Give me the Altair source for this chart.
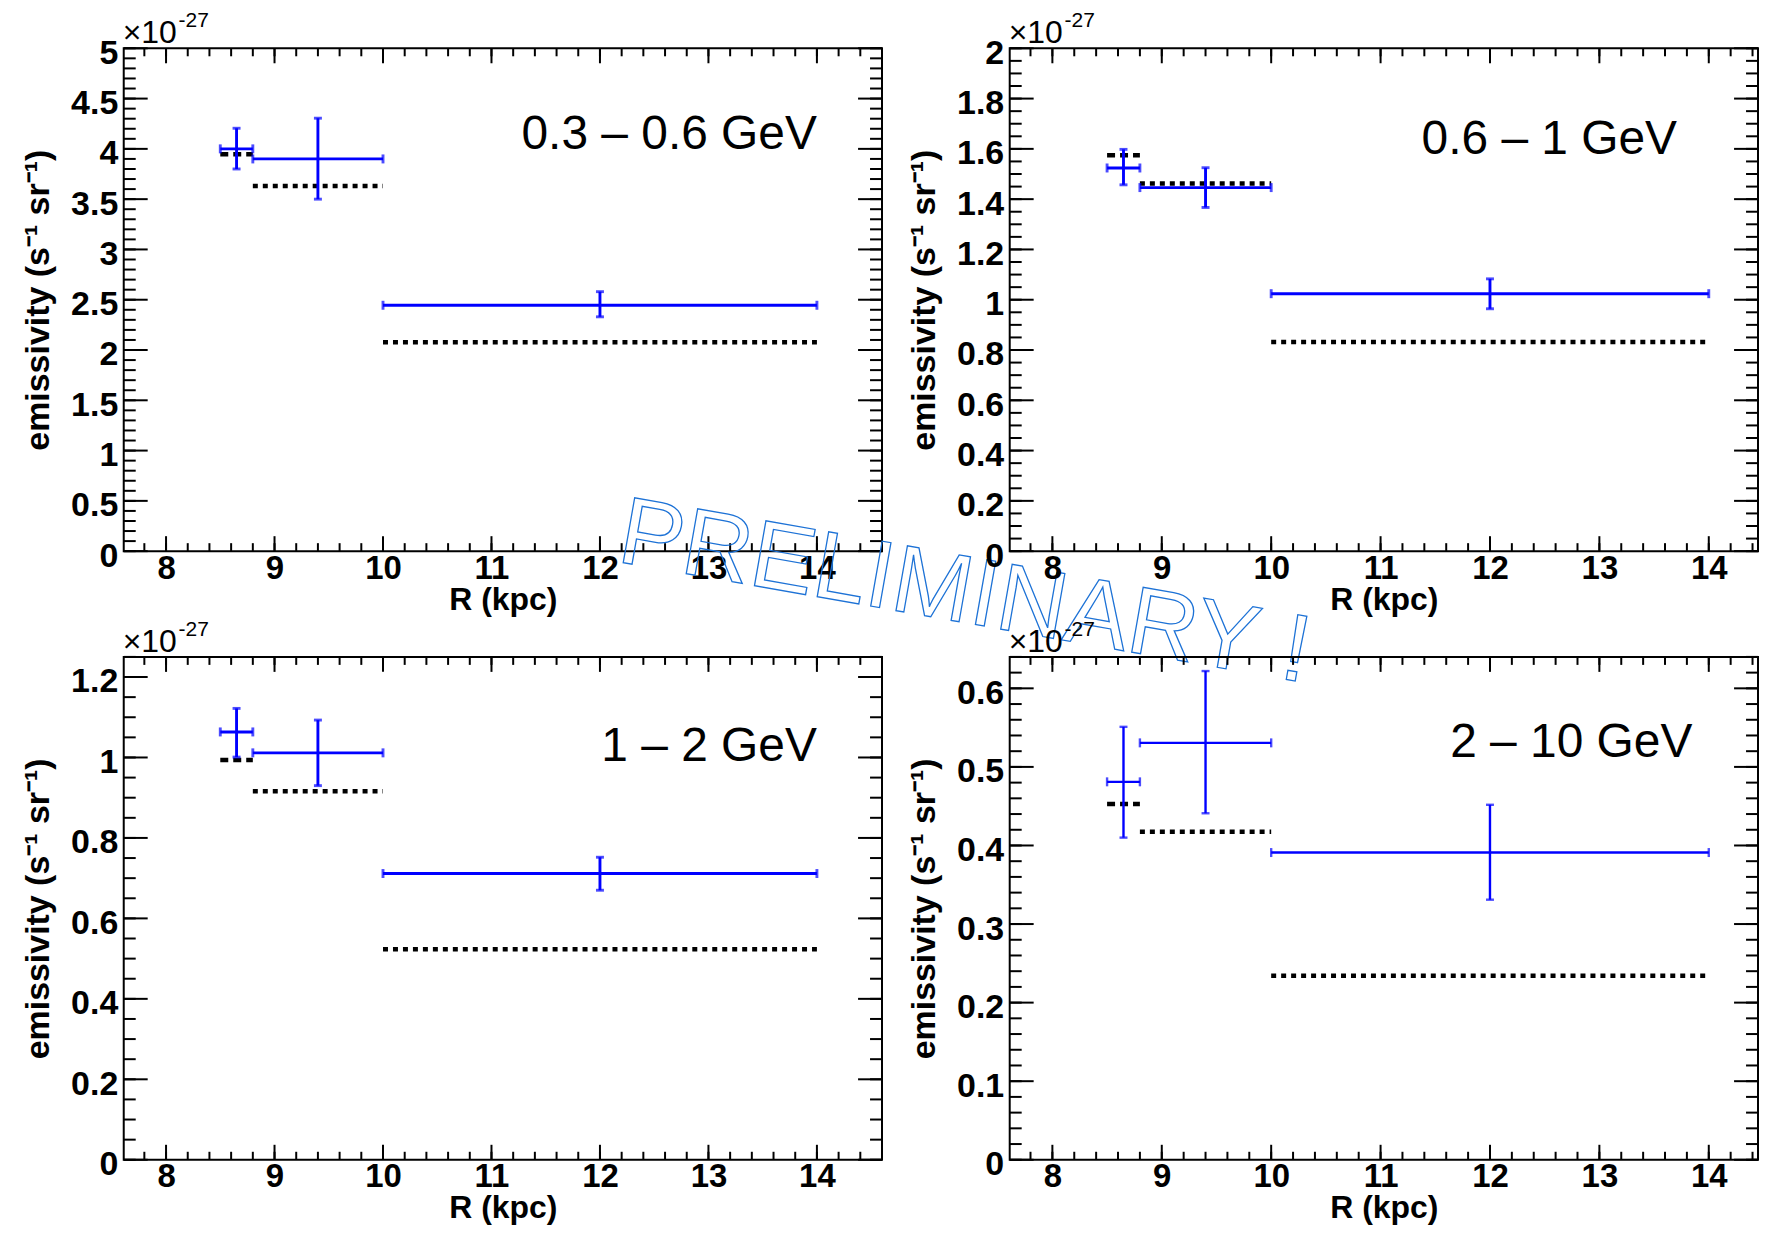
import altair as alt
import pandas as pd
import numpy as np

# ---------------- data ----------------
bin_lo = [8.5, 8.8, 10.0]
bin_hi = [8.8, 10.0, 14.0]
bin_c = [8.65, 9.4, 12.0]

band_labels = ["0.3 – 0.6 GeV", "0.6 – 1 GeV", "1 – 2 GeV", "2 – 10 GeV"]

emis_1 = [4.00, 3.90, 2.445]
low_1 = [3.80, 3.50, 2.33]
high_1 = [4.205, 4.305, 2.58]
model_1 = [3.946, 3.630, 2.078]

emis_2 = [1.524, 1.446, 1.024]
low_2 = [1.457, 1.367, 0.964]
high_2 = [1.598, 1.525, 1.083]
model_2 = [1.575, 1.462, 0.832]

emis_3 = [1.0635, 1.0115, 0.7115]
low_3 = [1.001, 0.930, 0.670]
high_3 = [1.122, 1.093, 0.752]
model_3 = [0.994, 0.916, 0.523]

emis_4 = [0.481, 0.5306, 0.391]
low_4 = [0.410, 0.441, 0.331]
high_4 = [0.551, 0.622, 0.4518]
model_4 = [0.4528, 0.4174, 0.2343]

emis = [emis_1, emis_2, emis_3, emis_4]
lows = [low_1, low_2, low_3, low_4]
highs = [high_1, high_2, high_3, high_4]
models = [model_1, model_2, model_3, model_4]

# axes
y_max = [5.0, 2.0, 1.25, 0.64]
y_major = [
    [0, 0.5, 1, 1.5, 2, 2.5, 3, 3.5, 4, 4.5, 5],
    [0, 0.2, 0.4, 0.6, 0.8, 1, 1.2, 1.4, 1.6, 1.8, 2],
    [0, 0.2, 0.4, 0.6, 0.8, 1, 1.2],
    [0, 0.1, 0.2, 0.3, 0.4, 0.5, 0.6],
]
y_minor_step = [0.1, 0.05, 0.05, 0.02]
x_major = [8, 9, 10, 11, 12, 13, 14]
x_minor_step = 0.2

# label anchors (data coordinates)
label_x = [14.0, 13.71, 14.0, 13.85]
label_y = [4.003, 1.578, 0.991, 0.512]

# ---------------- layout / style ----------------
x_domains = [[7.61, 14.6], [7.61, 14.45], [7.61, 14.6], [7.61, 14.45]]
widths = [760, 750, 760, 750]
HEIGHT = 504
BLUE = "#0000ff"
FONT = "Liberation Sans"
blue_w = [2.9, 2.9, 2.9, 2.4]

Y_MAJ_L, Y_MIN_L = 24, 12
X_MAJ_L, X_MIN_L = 15, 8


def ticks_between(lo, hi, step):
    n0 = int(np.ceil(lo / step - 1e-9))
    n1 = int(np.floor(hi / step + 1e-9))
    return [round(k * step, 4) for k in range(n0, n1 + 1)]


def panel(i):
    W = widths[i]
    H = HEIGHT
    xs = alt.Scale(domain=x_domains[i], nice=False, zero=False)
    ys = alt.Scale(domain=[0, y_max[i]], nice=False, zero=False)
    xax = alt.Axis(title="R (kpc)", values=x_major, format="d", ticks=False,
                   domain=False, grid=False, labelOverlap=False, titleY=33)
    yax = alt.Axis(title="emissivity (s⁻¹ sr⁻¹)", values=y_major[i], format=".2~f",
                   ticks=False, domain=False, grid=False, labelOverlap=False,
                   labelOffset=5, titleX=-68)

    def X(f):
        return alt.X(f, type="quantitative", scale=xs, axis=xax)

    def Y(f):
        return alt.Y(f, type="quantitative", scale=ys, axis=yax)

    pts = pd.DataFrame(dict(xc=bin_c, xlo=bin_lo, xhi=bin_hi,
                            v=emis[i], lo=lows[i], hi=highs[i], m=models[i]))

    layers = []
    # inward ticks (frame decoration)
    ymaj = pd.DataFrame({"t": y_major[i]})
    ymin = pd.DataFrame({"t": ticks_between(0, y_max[i], y_minor_step[i])})
    xmaj = pd.DataFrame({"t": x_major})
    xmin = pd.DataFrame({"t": ticks_between(x_domains[i][0] + 0.01, x_domains[i][1] - 0.01, x_minor_step)})
    tick_style = dict(color="black", strokeWidth=2)
    for df, L in [(ymaj, Y_MAJ_L), (ymin, Y_MIN_L)]:
        layers.append(alt.Chart(df).mark_rule(**tick_style).encode(
            y=Y("t"), x=alt.value(0), x2=alt.value(L)))
        layers.append(alt.Chart(df).mark_rule(**tick_style).encode(
            y=Y("t"), x=alt.value(W), x2=alt.value(W - L)))
    for df, L in [(xmaj, X_MAJ_L), (xmin, X_MIN_L)]:
        layers.append(alt.Chart(df).mark_rule(**tick_style).encode(
            x=X("t"), y=alt.value(H), y2=alt.value(H - L)))
        layers.append(alt.Chart(df).mark_rule(**tick_style).encode(
            x=X("t"), y=alt.value(0), y2=alt.value(L)))

    # model lines
    layers.append(alt.Chart(pts.iloc[[0]]).mark_rule(
        color="black", strokeWidth=4.5, strokeDash=[8, 5], strokeCap="butt").encode(
        x=X("xlo"), x2=alt.X2("xhi"), y=Y("m")))
    layers.append(alt.Chart(pts.iloc[1:]).mark_rule(
        color="black", strokeWidth=4.5, strokeDash=[5, 5], strokeCap="butt").encode(
        x=X("xlo"), x2=alt.X2("xhi"), y=Y("m")))

    # data points with error bars
    bw = blue_w[i]
    layers.append(alt.Chart(pts).mark_rule(color=BLUE, strokeWidth=bw).encode(
        x=X("xlo"), x2=alt.X2("xhi"), y=Y("v")))
    layers.append(alt.Chart(pts).mark_rule(color=BLUE, strokeWidth=bw).encode(
        x=X("xc"), y=Y("lo"), y2=alt.Y2("hi")))
    for fx in ["xlo", "xhi"]:
        layers.append(alt.Chart(pts).mark_tick(color=BLUE, orient="vertical", size=9,
                                               thickness=bw).encode(x=X(fx), y=Y("v")))
    for fy in ["lo", "hi"]:
        layers.append(alt.Chart(pts).mark_tick(color=BLUE, orient="horizontal", size=8,
                                               thickness=bw).encode(x=X("xc"), y=Y(fy)))

    # energy band label
    lab = pd.DataFrame({"x": [label_x[i]], "y": [label_y[i]], "t": [band_labels[i]]})
    layers.append(alt.Chart(lab).mark_text(
        align="right", baseline="alphabetic", font=FONT, fontSize=48, color="black").encode(
        x=X("x"), y=Y("y"), text="t:N"))

    # x10^-27 multiplier
    layers.append(alt.Chart(pd.DataFrame({"t": ["×10"]})).mark_text(
        align="left", baseline="alphabetic", font=FONT, fontSize=32, color="black").encode(
        x=alt.value(-1), y=alt.value(-5), text="t:N"))
    layers.append(alt.Chart(pd.DataFrame({"t": ["-27"]})).mark_text(
        align="left", baseline="alphabetic", font=FONT, fontSize=21, color="black").encode(
        x=alt.value(55), y=alt.value(-21), text="t:N"))

    if i == 0:
        layers.append(alt.Chart(pd.DataFrame({"t": ["PRELIMINARY !"]})).mark_text(
            align="left", baseline="alphabetic", font=FONT, fontSize=96, angle=10,
            fillOpacity=0, stroke="#1d72d6", strokeWidth=1.3).encode(
            x=alt.value(493), y=alt.value(514), text="t:N"))

    return alt.layer(*layers).properties(width=W, height=H)


chart = alt.concat(
    *[panel(i) for i in range(4)],
    columns=2,
    spacing={"row": 106, "column": 128},
    bounds="flush",
).properties(
    padding={"left": 13, "top": 0, "right": 0, "bottom": 0},
    background="white",
).configure_view(
    stroke="black", strokeWidth=2
).configure_axisX(
    labelFont=FONT, labelFontWeight="bold", labelFontSize=33, labelColor="black",
    labelPadding=1, titleFont=FONT, titleFontWeight="bold", titleFontSize=32,
    titleColor="black",
).configure_axisY(
    labelFont=FONT, labelFontWeight="bold", labelFontSize=34, labelColor="black",
    labelPadding=6, titleFont=FONT, titleFontWeight="bold", titleFontSize=34,
    titleColor="black",
)

chart.save("out.html", embed_options={"renderer": "svg", "actions": False})
